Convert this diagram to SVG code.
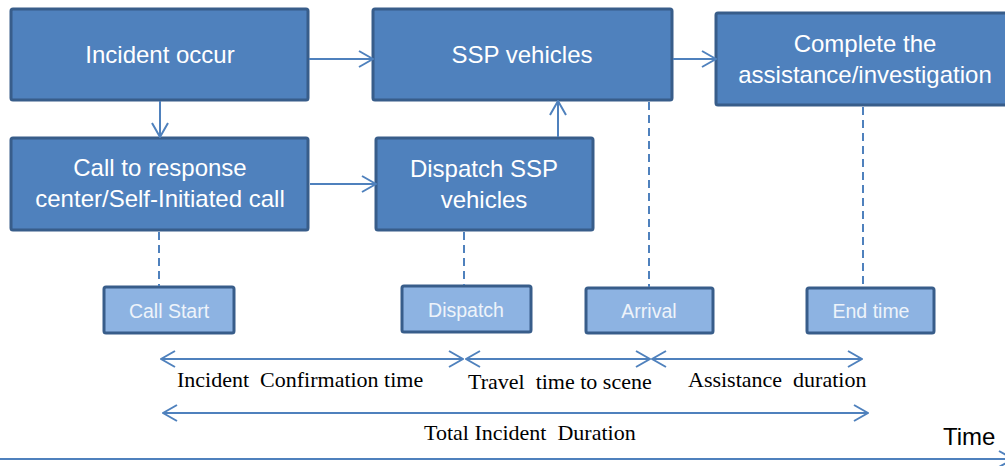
<svg xmlns="http://www.w3.org/2000/svg" width="1005" height="466" viewBox="0 0 1005 466">
  <style>
    .box { fill: #4F81BD; stroke: #385D8A; stroke-width: 3; }
    .tag { fill: #8DB3E2; stroke: #385D8A; stroke-width: 3; }
    .btxt { font-family: "Liberation Sans", Arial, sans-serif; font-size: 24px; fill: #FFFFFF; text-anchor: middle; }
    .ttxt { font-family: "Liberation Sans", Arial, sans-serif; font-size: 19.5px; fill: #EEF3FA; text-anchor: middle; }
    .lbl { font-family: "Liberation Serif", "Times New Roman", serif; font-size: 22px; fill: #000000; white-space: pre; }
    .flow { stroke: #4F81BD; stroke-width: 2; fill: none; }
    .dash { stroke: #4F81BD; stroke-width: 2; fill: none; stroke-dasharray: 8 5; }
  </style>
  <defs>
    <marker id="chev" viewBox="0 0 16 18" refX="15" refY="9" markerWidth="16" markerHeight="18" markerUnits="userSpaceOnUse" orient="auto-start-reverse">
      <path d="M1,1 L15,9 L1,17" fill="none" stroke="#4F81BD" stroke-width="2"/>
    </marker>
  </defs>

  <!-- process boxes -->
  <g id="incident-occur">
    <rect class="box" x="11" y="9" width="297" height="91" rx="2"/>
    <text class="btxt" x="160" y="63">Incident occur</text>
  </g>
  <g id="call-center">
    <rect class="box" x="11" y="138" width="297" height="92" rx="2"/>
    <text class="btxt" x="160" y="176">Call to response</text>
    <text class="btxt" x="160" y="207">center/Self-Initiated call</text>
  </g>
  <g id="ssp-vehicles">
    <rect class="box" x="373" y="9" width="299" height="91" rx="2"/>
    <text class="btxt" x="522" y="63">SSP vehicles</text>
  </g>
  <g id="dispatch-ssp">
    <rect class="box" x="376" y="138" width="217" height="92" rx="2"/>
    <text class="btxt" x="484" y="177">Dispatch SSP</text>
    <text class="btxt" x="484" y="208">vehicles</text>
  </g>
  <g id="complete">
    <rect class="box" x="716" y="13" width="300" height="92" rx="2"/>
    <text class="btxt" x="865" y="52">Complete the</text>
    <text class="btxt" x="865" y="83">assistance/investigation</text>
  </g>

  <!-- time stamps -->
  <g id="call-start">
    <rect class="tag" x="104" y="287" width="130" height="46" rx="2"/>
    <text class="ttxt" x="169" y="318">Call Start</text>
  </g>
  <g id="dispatch">
    <rect class="tag" x="402" y="286" width="129" height="46" rx="2"/>
    <text class="ttxt" x="466" y="317">Dispatch</text>
  </g>
  <g id="arrival">
    <rect class="tag" x="586" y="288" width="127" height="45" rx="2"/>
    <text class="ttxt" x="649" y="318">Arrival</text>
  </g>
  <g id="end-time">
    <rect class="tag" x="807" y="288" width="127" height="45" rx="2"/>
    <text class="ttxt" x="871" y="318">End time</text>
  </g>

  <!-- connectors -->
  <g id="connectors">
    <line class="flow" x1="309" y1="59" x2="373" y2="59" marker-end="url(#chev)"/>
    <line class="flow" x1="160" y1="101" x2="160" y2="137" marker-end="url(#chev)"/>
    <line class="flow" x1="310" y1="184" x2="376" y2="184" marker-end="url(#chev)"/>
    <line class="flow" x1="558" y1="137" x2="558" y2="101" marker-end="url(#chev)"/>
    <line class="flow" x1="673" y1="59" x2="716" y2="59" marker-end="url(#chev)"/>

    <line class="dash" x1="159" y1="232" x2="159" y2="286"/>
    <line class="dash" x1="464" y1="232" x2="464" y2="285"/>
    <line class="dash" x1="649" y1="102" x2="649" y2="287"/>
    <line class="dash" x1="863" y1="107" x2="863" y2="287"/>

    <!-- duration spans -->
    <line class="flow" x1="161" y1="359" x2="463" y2="359" marker-start="url(#chev)" marker-end="url(#chev)"/>
    <line class="flow" x1="466" y1="359" x2="650" y2="359" marker-start="url(#chev)" marker-end="url(#chev)"/>
    <line class="flow" x1="652" y1="359" x2="862" y2="359" marker-start="url(#chev)" marker-end="url(#chev)"/>
    <line class="flow" x1="163" y1="413" x2="868" y2="413" marker-start="url(#chev)" marker-end="url(#chev)"/>

    <!-- time axis -->
    <line class="flow" x1="0" y1="459" x2="1013" y2="459" marker-end="url(#chev)"/>
  </g>

  <!-- span labels -->
  <g id="labels">
    <text class="lbl" x="177" y="387" xml:space="preserve">Incident  Confirmation time</text>
    <text class="lbl" x="468" y="389" xml:space="preserve">Travel  time to scene</text>
    <text class="lbl" x="688" y="387" xml:space="preserve">Assistance  duration</text>
    <text class="lbl" x="424" y="440" xml:space="preserve">Total Incident  Duration</text>
    <text x="943" y="445" font-family="Liberation Sans, Arial, sans-serif" font-size="24" fill="#000000">Time</text>
  </g>
</svg>
